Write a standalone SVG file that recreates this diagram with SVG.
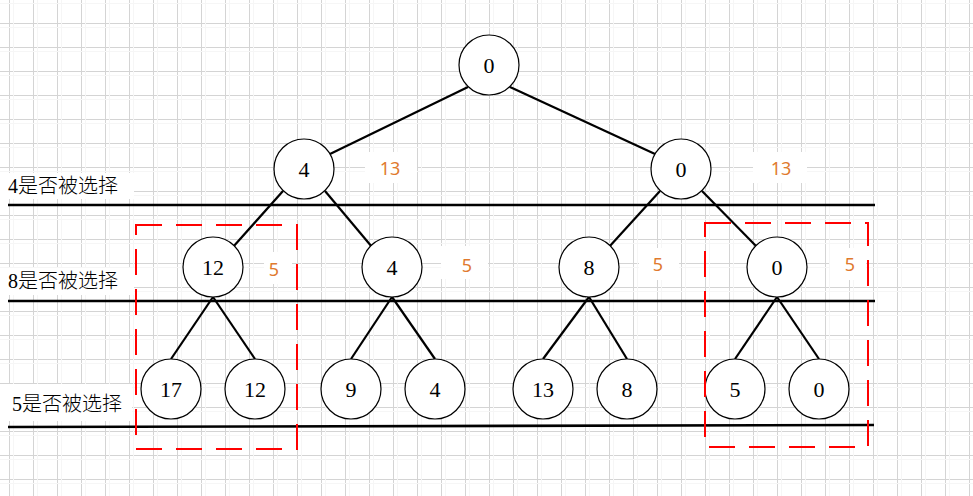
<svg xmlns="http://www.w3.org/2000/svg" width="973" height="496" viewBox="0 0 973 496">
<defs>
<pattern id="grid" patternUnits="userSpaceOnUse" x="9" y="23" width="24" height="24">
<rect x="0" y="0" width="24" height="1" fill="#d4d4d4"/>
<rect x="0" y="0" width="1" height="24" fill="#d4d4d4"/>
<rect x="4" y="0" width="1" height="24" fill="#f6f6f6"/>
<rect x="0" y="4" width="24" height="1" fill="#f6f6f6"/>
</pattern>
<style>
.node circle{fill:#fff;stroke:#000;stroke-width:1.2}
.node text{font-family:"Liberation Serif","Times New Roman",serif;font-size:22px;fill:#000;text-anchor:middle}
.edge{stroke:#000;stroke-width:2.2;fill:none}
.rule{stroke:#000;stroke-width:2.6;fill:none}
.box{stroke:#ff0000;stroke-width:2;fill:none;stroke-dasharray:26 14}
.lab{font-family:"Liberation Serif","Noto Sans CJK SC",serif;font-size:20px;font-weight:300;fill:#000}
.w{fill:#fff}
.cost{font-family:"Noto Sans","Liberation Sans",sans-serif;font-size:18px;fill:#e07a2e;text-anchor:middle}
</style>
</defs>
<rect x="0" y="0" width="973" height="496" fill="#fff"/>
<rect x="0" y="0" width="973" height="496" fill="url(#grid)"/>

<g id="label-bg">
<rect class="w" x="0" y="173" width="134" height="26"/>
<rect class="w" x="0" y="268" width="134" height="27"/>
<rect class="w" x="0" y="384" width="132" height="37"/>
<rect class="w" x="365" y="152" width="52" height="31"/>
<rect class="w" x="753" y="152" width="54" height="31"/>
<rect class="w" x="264" y="252" width="28" height="32"/>
<rect class="w" x="441" y="246" width="47" height="33"/>
<rect class="w" x="639" y="248" width="40" height="32"/>
<rect class="w" x="830" y="248" width="36" height="32"/>
</g>

<g id="rules">
<line class="rule" x1="8" y1="205" x2="875" y2="205"/>
<line class="rule" x1="8" y1="301" x2="875" y2="301"/>
<line class="rule" x1="8" y1="427" x2="874" y2="425"/>
</g>

<g id="labels">
<text class="lab" x="8" y="193">4是否被选择</text>
<text class="lab" x="8" y="288">8是否被选择</text>
<text class="lab" x="12" y="411">5是否被选择</text>
</g>

<g id="costs">
<text class="cost" x="390" y="175">13</text>
<text class="cost" x="781" y="175">13</text>
<text class="cost" x="274" y="276">5</text>
<text class="cost" x="467" y="272">5</text>
<text class="cost" x="658" y="271">5</text>
<text class="cost" x="850" y="271">5</text>
</g>

<g id="connectors">
<line class="edge" x1="468" y1="87" x2="330" y2="154"/>
<line class="edge" x1="510" y1="87" x2="655" y2="154"/>
<line class="edge" x1="283" y1="191" x2="233" y2="247"/>
<line class="edge" x1="325" y1="191" x2="372" y2="247"/>
<line class="edge" x1="660" y1="191" x2="609" y2="247"/>
<line class="edge" x1="702" y1="191" x2="757" y2="247"/>
<line class="edge" x1="213" y1="297" x2="171" y2="359"/>
<line class="edge" x1="213" y1="297" x2="255" y2="359"/>
<line class="edge" x1="392" y1="297" x2="351" y2="359"/>
<line class="edge" x1="392" y1="297" x2="435" y2="359"/>
<line class="edge" x1="589" y1="297" x2="543" y2="359"/>
<line class="edge" x1="589" y1="297" x2="627" y2="359"/>
<line class="edge" x1="777" y1="297" x2="735" y2="359"/>
<line class="edge" x1="777" y1="297" x2="819" y2="359"/>
</g>

<g id="n0" class="node"><circle cx="489" cy="65" r="30"/><text x="489" y="73">0</text></g>
<g id="n1" class="node"><circle cx="304" cy="169" r="30"/><text x="304" y="177">4</text></g>
<g id="n2" class="node"><circle cx="681" cy="169" r="30"/><text x="681" y="177">0</text></g>
<g id="n3" class="node"><circle cx="213" cy="267" r="30"/><text x="213" y="275">12</text></g>
<g id="n4" class="node"><circle cx="392" cy="267" r="30"/><text x="392" y="275">4</text></g>
<g id="n5" class="node"><circle cx="589" cy="267" r="30"/><text x="589" y="275">8</text></g>
<g id="n6" class="node"><circle cx="777" cy="267" r="30"/><text x="777" y="275">0</text></g>
<g id="n7" class="node"><circle cx="171" cy="389" r="30"/><text x="171" y="397">17</text></g>
<g id="n8" class="node"><circle cx="255" cy="389" r="30"/><text x="255" y="397">12</text></g>
<g id="n9" class="node"><circle cx="351" cy="389" r="30"/><text x="351" y="397">9</text></g>
<g id="n10" class="node"><circle cx="435" cy="389" r="30"/><text x="435" y="397">4</text></g>
<g id="n11" class="node"><circle cx="543" cy="389" r="30"/><text x="543" y="397">13</text></g>
<g id="n12" class="node"><circle cx="627" cy="389" r="30"/><text x="627" y="397">8</text></g>
<g id="n13" class="node"><circle cx="735" cy="389" r="30"/><text x="735" y="397">5</text></g>
<g id="n14" class="node"><circle cx="819" cy="389" r="30"/><text x="819" y="397">0</text></g>

<g id="selection-boxes">
<rect class="box" x="136" y="225" width="161" height="224"/>
<rect class="box" x="705" y="223" width="163" height="224"/>
</g>
</svg>
